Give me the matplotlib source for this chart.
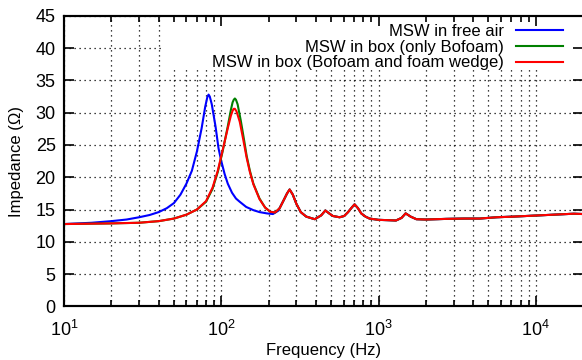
#!/usr/bin/env python3
# -*- coding: utf-8 -*-

import numpy as np
import matplotlib
matplotlib.use("Agg")
import matplotlib.pyplot as plt
from matplotlib.patches import Rectangle
from matplotlib.ticker import LogLocator, NullFormatter

plt.rcParams['font.family'] = ['Liberation Sans', 'DejaVu Sans']
plt.rcParams['mathtext.fontset'] = 'custom'
plt.rcParams['mathtext.rm'] = 'Liberation Sans'
plt.rcParams['mathtext.it'] = 'Liberation Sans'

############################################
# data (Hz, Ohm)
############################################
# common tail (all three curves overlap above ~230 Hz)
f_tail = [250, 262, 272, 285, 300, 320, 347, 393, 432, 459, 485, 512, 565,
          605, 640, 675, 704, 740, 776, 826, 876, 1000, 1150, 1290, 1400,
          1487, 1600, 1740, 2000, 2700, 3500, 4400, 5620, 7170, 9650,
          12950, 17400, 20000]
z_tail = [16.5, 17.5, 18.1, 17.3, 15.9, 14.6, 13.9, 13.5, 14.1, 14.85, 14.4,
          14.0, 13.8, 14.0, 14.6, 15.3, 15.8, 15.2, 14.4, 13.9, 13.6, 13.4,
          13.35, 13.3, 13.7, 14.4, 13.9, 13.5, 13.45, 13.55, 13.6, 13.6,
          13.8, 13.9, 14.05, 14.2, 14.35, 14.3]

f_free = [10, 15, 20, 25, 30, 35, 40, 45, 50, 55, 60, 65, 70, 75, 79, 81.5,
          83, 84.5, 87, 92, 96, 100, 105, 110, 117, 124, 131, 144, 160, 175,
          195, 213, 230] + f_tail
z_free = [12.75, 12.95, 13.2, 13.45, 13.8, 14.15, 14.6, 15.2, 16.0, 17.3,
          19.0, 21.0, 24.0, 27.6, 30.9, 32.4, 32.8, 32.5, 31.3, 27.8, 24.5,
          22.5, 20.5, 19.0, 17.6, 16.7, 16.2, 15.4, 14.9, 14.6, 14.4, 14.3,
          14.8] + z_tail

f_bofoam = [10, 20, 30, 40, 50, 60, 70, 80, 88, 95, 102, 110, 115, 118, 120,
            122, 124, 127, 133, 140, 145, 152, 160, 175, 190, 205, 220,
            235] + f_tail
z_bofoam = [12.75, 12.85, 12.95, 13.2, 13.6, 14.2, 15.0, 16.2, 18.2, 20.8,
            24.0, 27.9, 30.4, 31.6, 32.0, 32.2, 32.0, 31.3, 28.8, 25.6, 23.3,
            21.0, 19.0, 16.7, 15.3, 14.65, 14.55, 15.2] + z_tail

f_wedge = [10, 20, 30, 40, 50, 60, 70, 80, 88, 95, 102, 110, 115, 118, 120,
           122, 125, 131, 138, 145, 152, 160, 175, 190, 205, 220,
           235] + f_tail
z_wedge = [12.75, 12.85, 12.95, 13.2, 13.6, 14.2, 15.0, 16.3, 18.4, 21.0,
           24.2, 27.6, 29.5, 30.3, 30.6, 30.6, 30.2, 28.6, 25.8, 23.0, 20.8,
           18.9, 16.6, 15.3, 14.65, 14.55, 15.2] + z_tail

labels = ["MSW in free air", "MSW in box (only Bofoam)",
          "MSW in box (Bofoam and foam wedge)"]


def setup_axis(a):
    a.set_xscale("log")
    a.set_xlim(10, 2e4)
    a.set_ylim(0, 45)
    a.set_yticks(np.arange(0, 46, 5))
    a.xaxis.set_major_locator(LogLocator(base=10))
    a.xaxis.set_minor_locator(LogLocator(base=10, subs=np.arange(2, 10)))
    a.xaxis.set_minor_formatter(NullFormatter())
    a.tick_params(which="both", direction="in", width=1.2)
    a.tick_params(which="major", length=7)
    a.tick_params(which="minor", length=4)


############################################
# plot
############################################
fig = plt.figure(figsize=(5.82, 3.60), dpi=100)
pos = [0.110, 0.149, 0.892, 0.807]
ax = fig.add_axes(pos)
setup_axis(ax)

ax.plot(f_free, z_free, color="#0000ff", lw=1.5, label=labels[0])
ax.plot(f_bofoam, z_bofoam, color="#008000", lw=1.5, label=labels[1])
ax.plot(f_wedge, z_wedge, color="#ff0000", lw=1.5, label=labels[2])

ax.grid(True, which="major", color="black", ls=(0, (1, 3)), lw=0.9)
ax.grid(True, which="minor", axis="x", color="black", ls=(0, (1, 3)), lw=0.9)
ax.set_axisbelow(True)

# key area blanks the grid behind it (gnuplot style)
ax.add_patch(Rectangle((0.189, 0.813), 0.811, 0.187, transform=ax.transAxes,
                       facecolor="white", edgecolor="none", zorder=1))

ax.tick_params(which="both", top=False, right=False, labelsize=13)
ax.tick_params(axis="x", which="major", pad=10)
ax.tick_params(axis="y", which="major", pad=6)
for s in ax.spines.values():
    s.set_linewidth(1.5)

ax.set_xlabel("Frequency (Hz)", fontsize=12, labelpad=2)
ax.set_ylabel("Impedance (Ω)", fontsize=12, labelpad=8)

leg = ax.legend(loc="upper right", markerfirst=False, fontsize=12,
                frameon=False, handlelength=2.8,
                handletextpad=0.7, labelspacing=0.05, borderpad=0.3,
                borderaxespad=0.0, bbox_to_anchor=(0.97, 0.99))
leg.set_zorder(5)
for t in leg.get_texts():
    t.set_ha("right")

# overlay for the top/right ticks so the key blank does not hide them
ax2 = fig.add_axes(pos, zorder=ax.get_zorder() + 1)
ax2.patch.set_visible(False)
setup_axis(ax2)
ax2.tick_params(which="both", bottom=False, left=False, top=True, right=True,
                labelbottom=False, labelleft=False)
for s in ax2.spines.values():
    s.set_linewidth(1.5)

fig.savefig("out.png", dpi=100)
